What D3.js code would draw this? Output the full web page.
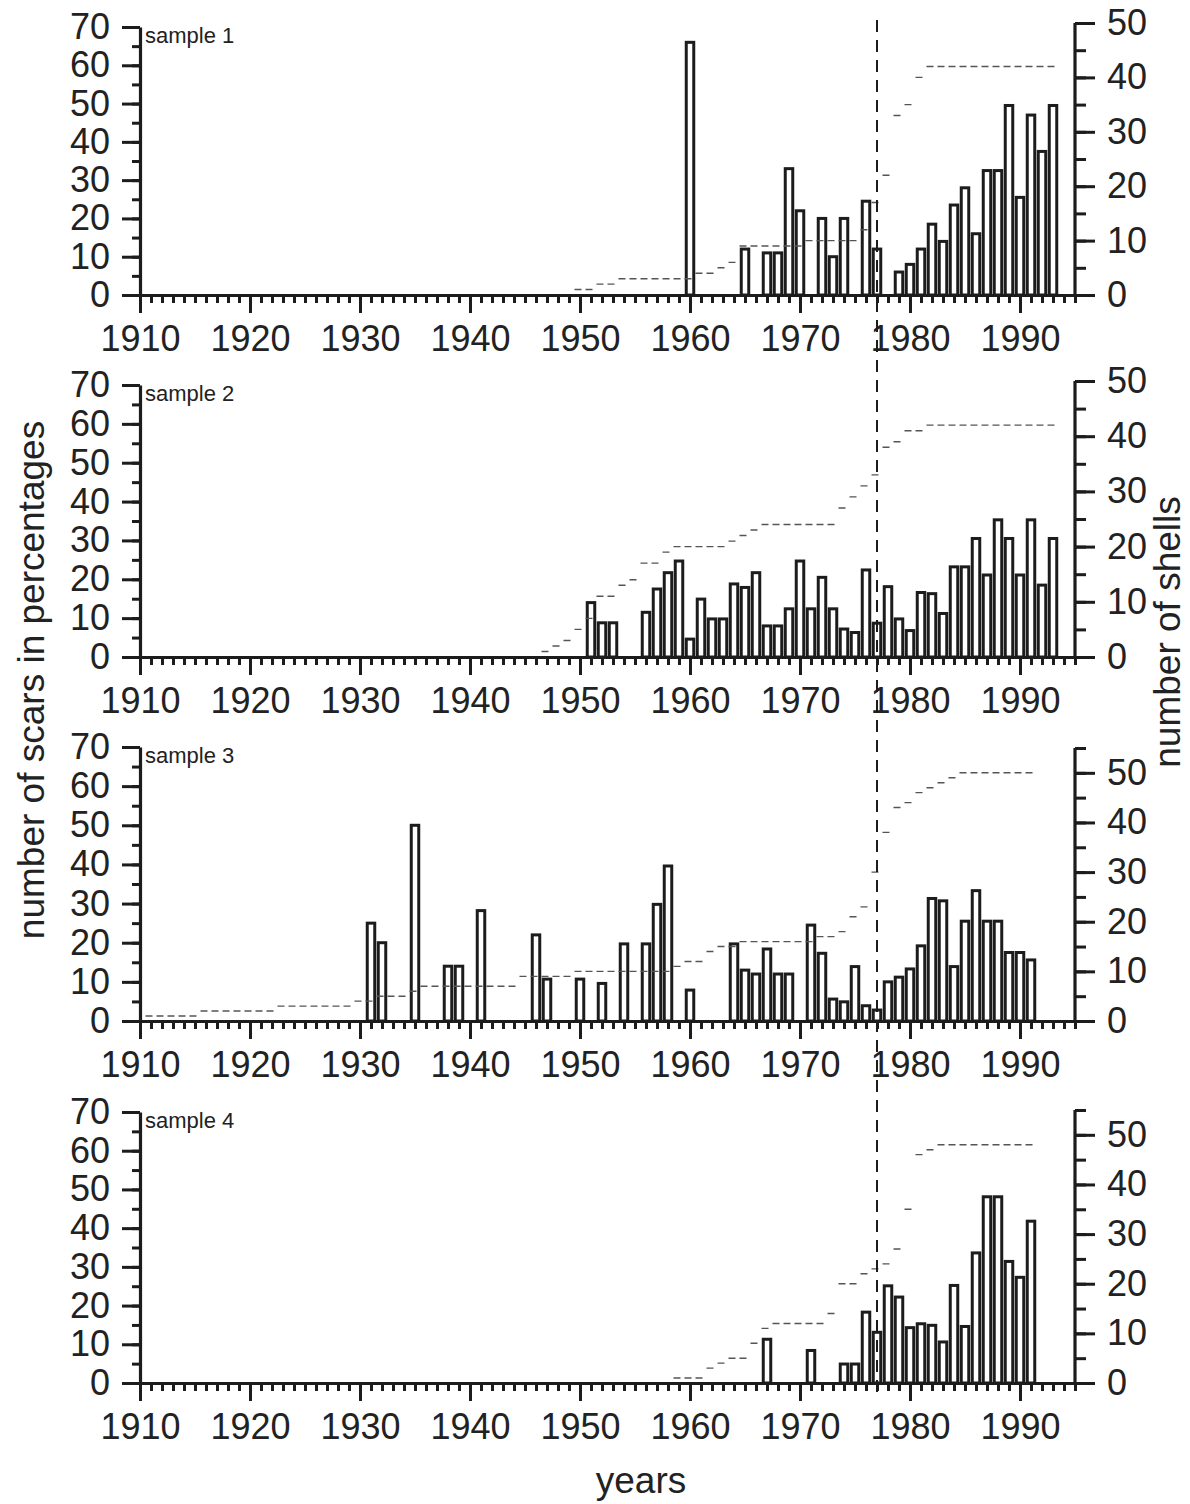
<!DOCTYPE html>
<html>
<head>
<meta charset="utf-8">
<script src="https://cdn.jsdelivr.net/npm/d3@7"></script>
<style>
  body { margin: 0; background: #fff; }
  svg text { font-family: "Liberation Sans", Arial, sans-serif; fill: #222; }
</style>
</head>
<body>
<div id="container"></div>
<script>
// sample 1
const s1Years = [1960, 1965, 1967, 1968, 1969, 1970, 1972, 1973, 1974, 1976, 1977, 1979, 1980, 1981, 1982, 1983, 1984, 1985, 1986, 1987, 1988, 1989, 1990, 1991, 1992, 1993];
const s1Scars = [66, 12, 11, 11, 33, 22, 20, 10, 20, 24.5, 12, 6, 8, 12, 18.5, 14, 23.5, 28, 16, 32.5, 32.5, 49.5, 25.5, 47, 37.5, 49.5];
const s1ShellStart = 1950;
const s1Shells = [1, 1, 2, 2, 3, 3, 3, 3, 3, 3, 3, 4, 4, 5, 6, 9, 9, 9, 9, 9, 9, 10, 10, 10, 10, 10, 12, 17, 22, 33, 35, 40, 42, 42, 42, 42, 42, 42, 42, 42, 42, 42, 42, 42];

// sample 2
const s2Years = [1951, 1952, 1953, 1956, 1957, 1958, 1959, 1960, 1961, 1962, 1963, 1964, 1965, 1966, 1967, 1968, 1969, 1970, 1971, 1972, 1973, 1974, 1975, 1976, 1977, 1978, 1979, 1980, 1981, 1982, 1983, 1984, 1985, 1986, 1987, 1988, 1989, 1990, 1991, 1992, 1993];
const s2Scars = [14, 8.8, 8.8, 11.5, 17.5, 21.7, 24.7, 4.6, 14.9, 9.8, 9.8, 18.8, 17.9, 21.7, 8, 8, 12.4, 24.7, 12.4, 20.5, 12.4, 7.2, 6.3, 22.4, 8.7, 18.1, 9.8, 6.8, 16.6, 16.3, 11.2, 23.2, 23.2, 30.5, 21.1, 35.3, 30.5, 21.1, 35.3, 18.5, 30.5];
const s2ShellStart = 1947;
const s2Shells = [1, 2, 3, 5, 7, 11, 11, 13, 14, 17, 17, 19, 20, 20, 20, 20, 20, 21, 22, 23, 24, 24, 24, 24, 24, 24, 24, 27, 29, 31, 33, 38, 39, 41, 41, 42, 42, 42, 42, 42, 42, 42, 42, 42, 42, 42, 42];

// sample 3
const s3Years = [1931, 1932, 1935, 1938, 1939, 1941, 1946, 1947, 1950, 1952, 1954, 1956, 1957, 1958, 1960, 1964, 1965, 1966, 1967, 1968, 1969, 1971, 1972, 1973, 1974, 1975, 1976, 1977, 1978, 1979, 1980, 1981, 1982, 1983, 1984, 1985, 1986, 1987, 1988, 1989, 1990, 1991];
const s3Scars = [25, 20, 50, 14, 14, 28.2, 22, 10.7, 10.7, 9.6, 19.7, 19.7, 29.8, 39.6, 7.9, 19.7, 13, 12, 18.4, 12, 12, 24.5, 17.3, 5.6, 4.9, 13.9, 3.9, 2.8, 10, 11.2, 13.3, 19.2, 31.3, 30.7, 13.9, 25.5, 33.3, 25.5, 25.5, 17.5, 17.5, 15.6];
const s3ShellStart = 1911;
const s3Shells = [1, 1, 1, 1, 1, 2, 2, 2, 2, 2, 2, 2, 3, 3, 3, 3, 3, 3, 3, 4, 4, 5, 5, 5, 6, 7, 7, 7, 7, 7, 7, 7, 7, 7, 9, 9, 9, 9, 9, 10, 10, 10, 10, 10, 10, 10, 10, 10, 11, 12, 12, 14, 15, 15, 16, 16, 16, 16, 16, 16, 16, 17, 17, 18, 21, 23, 30, 38, 43, 44, 46, 47, 48, 49, 50, 50, 50, 50, 50, 50, 50];

// sample 4
const s4Years = [1967, 1971, 1974, 1975, 1976, 1977, 1978, 1979, 1980, 1981, 1982, 1983, 1984, 1985, 1986, 1987, 1988, 1989, 1990, 1991];
const s4Scars = [11.3, 8.4, 4.9, 4.9, 18.3, 13.1, 25.1, 22.2, 14.3, 15.3, 14.9, 10.6, 25.2, 14.6, 33.6, 48.1, 48.1, 31.4, 27.3, 41.8];
const s4ShellStart = 1959;
const s4Shells = [1, 1, 1, 3, 4, 5, 5, 8, 11, 12, 12, 12, 12, 12, 14, 20, 20, 22, 23, 24, 27, 35, 46, 47, 48, 48, 48, 48, 48, 48, 48, 48, 48];

const sampleNames = ["sample 1", "sample 2", "sample 3", "sample 4"];
const shellMax = [50, 50, 55, 55];
const yearTicks = [1910, 1920, 1930, 1940, 1950, 1960, 1970, 1980, 1990];
const markYear = 1977;

const samples = [
  { years: s1Years, scars: s1Scars, start: s1ShellStart, shells: s1Shells },
  { years: s2Years, scars: s2Scars, start: s2ShellStart, shells: s2Shells },
  { years: s3Years, scars: s3Scars, start: s3ShellStart, shells: s3Shells },
  { years: s4Years, scars: s4Scars, start: s4ShellStart, shells: s4Shells }
];

const width = 1190;
const height = 1504;
const tops = [27, 385, 747, 1112];
const bottoms = [295, 657, 1021, 1383];
const shellTops = [23, 381, 748, 1110];
const ink = "#1c1c1c";

const x = d3.scaleLinear().domain([1910, 1995]).range([140, 1075]);

const svg = d3.create("svg")
  .attr("width", width)
  .attr("height", height)
  .style("background", "#fff");

const styleAxis = (g) => {
  g.attr("font-size", 36).attr("font-family", null);
  g.selectAll("line").attr("stroke", ink).attr("stroke-width", 3);
  g.selectAll("path").attr("stroke", ink).attr("stroke-width", 3.2);
  g.selectAll("text").attr("fill", "#222");
};

samples.forEach((s, i) => {
  const yL = d3.scaleLinear().domain([0, 70]).range([bottoms[i], tops[i]]);
  const yR = d3.scaleLinear().domain([0, shellMax[i]]).range([bottoms[i], shellTops[i]]);
  const g = svg.append("g");

  // bars
  g.selectAll("rect")
    .data(d3.zip(s.years, s.scars))
    .join("rect")
    .attr("x", d => x(d[0]) - 3.75)
    .attr("width", 7.5)
    .attr("y", d => yL(d[1]))
    .attr("height", d => yL(0) - yL(d[1]))
    .attr("fill", "#fff")
    .attr("stroke", ink)
    .attr("stroke-width", 3);

  // number of shells, one dash step per year
  const shellYears = d3.range(s.start, s.start + s.shells.length);
  const stepPath = shellYears
    .map((yr, j) => `M${x(yr - 0.5)},${yR(s.shells[j])}H${x(yr + 0.5)}`)
    .join("");
  g.append("path")
    .attr("d", stepPath)
    .attr("fill", "none")
    .attr("stroke", "#555")
    .attr("stroke-width", 1.4)
    .attr("stroke-dasharray", "7,4");

  // bottom axis
  g.append("g")
    .attr("transform", `translate(0,${bottoms[i]})`)
    .call(d3.axisBottom(x).tickValues(d3.range(1910, 1996)).tickSize(8).tickFormat(""))
    .call(a => a.select(".domain").remove())
    .call(styleAxis);
  g.append("g")
    .attr("transform", `translate(0,${bottoms[i]})`)
    .call(d3.axisBottom(x).tickValues(yearTicks).tickSize(18).tickSizeOuter(0).tickPadding(12).tickFormat(d3.format("d")))
    .call(styleAxis);

  // left axis
  g.append("g")
    .attr("transform", `translate(${x(1910)},0)`)
    .call(d3.axisLeft(yL).tickValues(d3.range(0, 71, 5)).tickSize(8).tickFormat(""))
    .call(a => a.select(".domain").remove())
    .call(styleAxis);
  g.append("g")
    .attr("transform", `translate(${x(1910)},0)`)
    .call(d3.axisLeft(yL).tickValues(d3.range(0, 71, 10)).tickSize(18).tickSizeOuter(0).tickPadding(12))
    .call(styleAxis);

  // right axis
  g.append("g")
    .attr("transform", `translate(${x(1995)},0)`)
    .call(d3.axisRight(yR).tickValues(d3.range(0, shellMax[i] + 1, 5)).tickSize(11).tickFormat(""))
    .call(a => a.select(".domain").remove())
    .call(styleAxis);
  g.append("g")
    .attr("transform", `translate(${x(1995)},0)`)
    .call(d3.axisRight(yR).tickValues(d3.range(0, 51, 10)).tickSize(20).tickSizeOuter(0).tickPadding(12))
    .call(styleAxis)
    .call(a => a.select(".domain").attr("d", `M0,${yR(0)}V${yR(shellMax[i])}`));

  g.append("text")
    .attr("x", x(1910) + 5)
    .attr("y", tops[i] + 16)
    .attr("font-size", 22)
    .text(sampleNames[i]);
});

// marker line at 1977
svg.append("line")
  .attr("x1", x(markYear)).attr("x2", x(markYear))
  .attr("y1", 20).attr("y2", 1396)
  .attr("stroke", ink)
  .attr("stroke-width", 2)
  .attr("stroke-dasharray", "12,8");

// axis titles
svg.append("text")
  .attr("transform", "translate(44,680) rotate(-90)")
  .attr("text-anchor", "middle")
  .attr("font-size", 37)
  .text("number of scars in percentages");

svg.append("text")
  .attr("transform", "translate(1180,632) rotate(-90)")
  .attr("text-anchor", "middle")
  .attr("font-size", 37)
  .text("number of shells");

svg.append("text")
  .attr("x", 641)
  .attr("y", 1493)
  .attr("text-anchor", "middle")
  .attr("font-size", 37)
  .text("years");

container.append(svg.node());
</script>
</body>
</html>
